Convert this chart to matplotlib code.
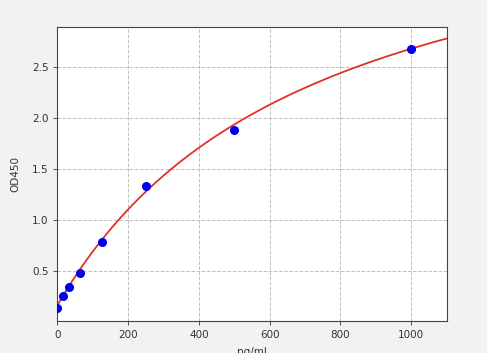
import numpy as np
import matplotlib.pyplot as plt

# standard concentrations (pg/ml) and measured OD450
conc = [0, 15.6, 31.25, 62.5, 125, 250, 500, 1000]
od450 = [0.13, 0.25, 0.336, 0.48, 0.776, 1.335, 1.88, 2.68]

# four-parameter logistic fit parameters (a, b, c, d)
fit_a = 0.16
fit_b = 1.0
fit_c = 722.0
fit_d = 4.5


def four_pl(x, a, b, c, d):
    return d + (a - d) / (1 + (x / c) ** b)


def main():
    fig = plt.figure(figsize=(4.87, 3.53), dpi=100, facecolor="#f2f2f2")
    ax = fig.add_axes([0.118, 0.0895, 0.799, 0.833])

    x_fit = np.linspace(0, 1100, 400)
    ax.plot(x_fit, four_pl(x_fit, fit_a, fit_b, fit_c, fit_d), color="#e0302a", lw=1.3, zorder=2)
    ax.plot(conc, od450, "o", color="#0000ee", ms=5.5, zorder=3)

    ax.set_xlim(0, 1100)
    ax.set_ylim(0, 2.89)
    ax.set_xticks([0, 200, 400, 600, 800, 1000])
    ax.set_yticks([0.5, 1.0, 1.5, 2.0, 2.5])
    ax.tick_params(labelsize=7.5, colors="#333333", length=3, width=0.6)
    ax.grid(True, linestyle="--", color="#c0c0c0", lw=0.7)
    ax.set_axisbelow(True)
    for s in ax.spines.values():
        s.set_color("#444444")
        s.set_linewidth(0.8)

    ax.set_xlabel("pg/ml", fontsize=7.5, color="#333333", labelpad=5)
    ax.set_ylabel("OD450", fontsize=7.5, color="#333333", labelpad=8)

    fig.savefig("out.png", dpi=100, facecolor=fig.get_facecolor())
    plt.close(fig)


if __name__ == "__main__":
    main()
